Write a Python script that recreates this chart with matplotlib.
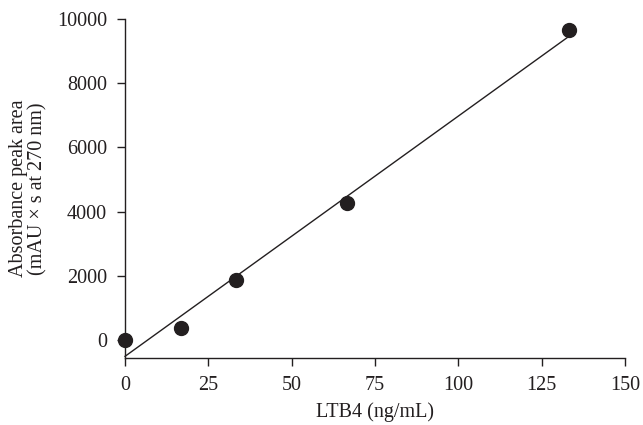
import numpy as np
import matplotlib
matplotlib.use("Agg")
import matplotlib.pyplot as plt

plt.rcParams['font.family'] = ['Liberation Serif', 'DejaVu Serif']

ltb4 = [0, 16.67, 33.33, 66.67, 133.33]
peak_area = [0, 380, 1870, 4270, 9650]
x_ticks = [0, 25, 50, 75, 100, 125, 150]
y_ticks = [0, 2000, 4000, 6000, 8000, 10000]

ink = '#231f20'

fig = plt.figure(figsize=(6.43, 4.25), dpi=100)
ax = fig.add_axes([0.1944, 0.1576, 0.7776, 0.7977])

# least squares calibration line
slope, intercept = np.polyfit(ltb4, peak_area, 1)
xs = np.array([ltb4[0], ltb4[-1]])
ax.plot(xs, slope * xs + intercept, color=ink, lw=1.0, clip_on=False)

ax.plot(ltb4, peak_area, 'o', color=ink, markersize=10, clip_on=False, zorder=3)

ax.set_xlim(0, 150)
ax.set_ylim(-560, 10000)
ax.set_xticks(x_ticks)
ax.set_yticks(y_ticks)

for side in ['top', 'right']:
    ax.spines[side].set_visible(False)
for side in ['left', 'bottom']:
    ax.spines[side].set_color(ink)
    ax.spines[side].set_linewidth(1.0)

ax.tick_params(direction='out', length=6, width=1.0, colors=ink, labelsize=14.5, pad=7)

ax.set_xlabel('LTB4 (ng/mL)', fontsize=14.5, color=ink, labelpad=5)
ax.set_ylabel('Absorbance peak area\n(mAU \u00d7 s at 270 nm)', fontsize=14.5,
              color=ink, labelpad=7, linespacing=1.0)

fig.savefig('out.png', dpi=100)
plt.close(fig)
